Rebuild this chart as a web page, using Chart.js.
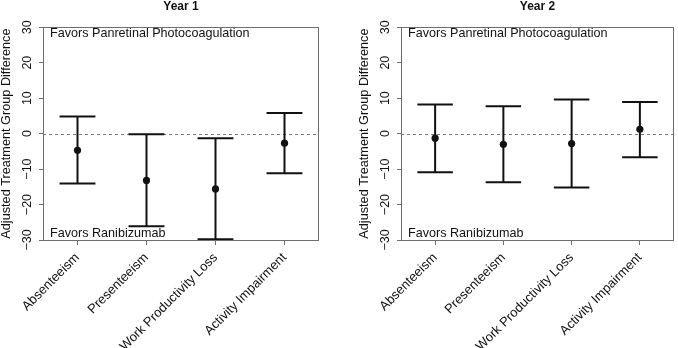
<!DOCTYPE html>
<html>
<head>
<meta charset="utf-8">
<script src="https://cdn.jsdelivr.net/npm/chart.js@4/dist/chart.umd.min.js"></script>
<style>
html,body{margin:0;padding:0;background:#fff;}
#wrap{position:relative;width:678px;height:348px;overflow:hidden;}
#p1{position:absolute;left:0;top:0;width:358px;height:348px;}
#p2{position:absolute;left:358px;top:0;width:320px;height:348px;}
</style>
</head>
<body>
<div id="wrap">
  <div id="p1"><canvas id="c1"></canvas></div>
  <div id="p2"><canvas id="c2"></canvas></div>
</div>
<script>
// ---- data ----
const categories = ['Absenteeism', 'Presenteeism', 'Work Productivity Loss', 'Activity Impairment'];
const year1Estimate = [-4.7, -13.2, -15.6, -2.7];
const year1Lower    = [-14.1, -26.1, -29.8, -11.2];
const year1Upper    = [4.8, -0.2, -1.3, 5.8];
const year2Estimate = [-1.3, -3.0, -2.8, 1.2];
const year2Lower    = [-10.9, -13.7, -15.2, -6.7];
const year2Upper    = [8.2, 7.7, 9.6, 8.9];
const yMin = -30, yMax = 30, yStep = 10;
const yAxisTitle = 'Adjusted Treatment Group Difference';
const topNote = 'Favors Panretinal Photocoagulation';
const bottomNote = 'Favors Ranibizumab';

const FONT = '"Liberation Sans", Arial, Helvetica, sans-serif';
const TEXT = '#111';
const AXIS = '#6e6e6e';

const errorBarPlugin = {
  id: 'errorBars',
  beforeDatasetsDraw(chart, args, opts) {
    const {ctx, chartArea: a, scales: {x, y}} = chart;
    // dashed zero reference line
    ctx.save();
    ctx.strokeStyle = '#7a7a7a';
    ctx.lineWidth = 1;
    ctx.setLineDash([3, 3]);
    const y0 = Math.round(y.getPixelForValue(0)) + 0.5;
    ctx.beginPath();
    ctx.moveTo(a.left, y0);
    ctx.lineTo(a.right, y0);
    ctx.stroke();
    ctx.restore();
    // error bars
    ctx.save();
    ctx.strokeStyle = '#111';
    ctx.lineWidth = 2;
    const cap = (x.getPixelForValue(1) - x.getPixelForValue(0)) * 0.26;
    opts.lower.forEach((lo, i) => {
      const px = x.getPixelForValue(i);
      const pl = y.getPixelForValue(lo);
      const pu = y.getPixelForValue(opts.upper[i]);
      ctx.beginPath();
      ctx.moveTo(px, pl); ctx.lineTo(px, pu);
      ctx.moveTo(px - cap, pl); ctx.lineTo(px + cap, pl);
      ctx.moveTo(px - cap, pu); ctx.lineTo(px + cap, pu);
      ctx.stroke();
    });
    ctx.restore();
  },
  afterDraw(chart) {
    const {ctx, chartArea: a} = chart;
    ctx.save();
    ctx.strokeStyle = AXIS;
    ctx.lineWidth = 1;
    ctx.strokeRect(Math.round(a.left) + 0.5, Math.round(a.top) + 0.5,
                   Math.round(a.right - a.left) - 1, Math.round(a.bottom - a.top));
    ctx.fillStyle = TEXT;
    ctx.font = '12.6px ' + FONT;
    ctx.textBaseline = 'middle';
    ctx.textAlign = 'left';
    ctx.fillText(topNote, a.left + 7, a.top + 6.5);
    ctx.fillText(bottomNote, a.left + 7, a.bottom - 6.5);
    ctx.restore();
  }
};

function makeChart(id, title, est, lower, upper, padRight) {
  return new Chart(document.getElementById(id), {
    type: 'line',
    data: {
      labels: categories,
      datasets: [{
        data: est,
        showLine: false,
        pointRadius: 3.6,
        pointBackgroundColor: '#111',
        pointBorderWidth: 0
      }]
    },
    options: {
      responsive: true,
      maintainAspectRatio: false,
      animation: false,
      devicePixelRatio: 1,
      events: [],
      layout: {padding: {left: 0, right: padRight, top: 0, bottom: 0}},
      plugins: {
        legend: {display: false},
        tooltip: {enabled: false},
        title: {
          display: true, text: title, fullSize: false, color: TEXT,
          font: {family: FONT, size: 12, weight: 'bold', lineHeight: 1.1},
          padding: {top: 0, bottom: 14}
        },
        errorBars: {lower: lower, upper: upper}
      },
      scales: {
        x: {
          type: 'category',
          offset: true,
          border: {display: false},
          grid: {drawOnChartArea: false, offset: false, tickLength: 5, tickColor: AXIS, tickWidth: 1},
          ticks: {
            minRotation: 45, maxRotation: 45, padding: 5, color: TEXT, autoSkip: false,
            font: {family: FONT, size: 13}
          },
          afterFit(s) { s.height = 108; }
        },
        y: {
          min: yMin, max: yMax,
          border: {display: false},
          grid: {drawOnChartArea: false, tickLength: 4, tickColor: AXIS, tickWidth: 1},
          ticks: {
            stepSize: yStep, minRotation: 90, maxRotation: 90, crossAlign: 'center',
            padding: 1, color: TEXT, font: {family: FONT, size: 12.5},
            callback: v => (v < 0 ? '\u2212' + Math.abs(v) : String(v))
          },
          title: {
            display: true, text: yAxisTitle, color: TEXT,
            font: {family: FONT, size: 12.7, lineHeight: 1.1},
            padding: {top: 0, bottom: 0}
          },
          afterFit(s) { s.width = 43; }
        }
      }
    },
    plugins: [errorBarPlugin]
  });
}

makeChart('c1', 'Year 1', year1Estimate, year1Lower, year1Upper, 39);
makeChart('c2', 'Year 2', year2Estimate, year2Lower, year2Upper, 1);
</script>
</body>
</html>
